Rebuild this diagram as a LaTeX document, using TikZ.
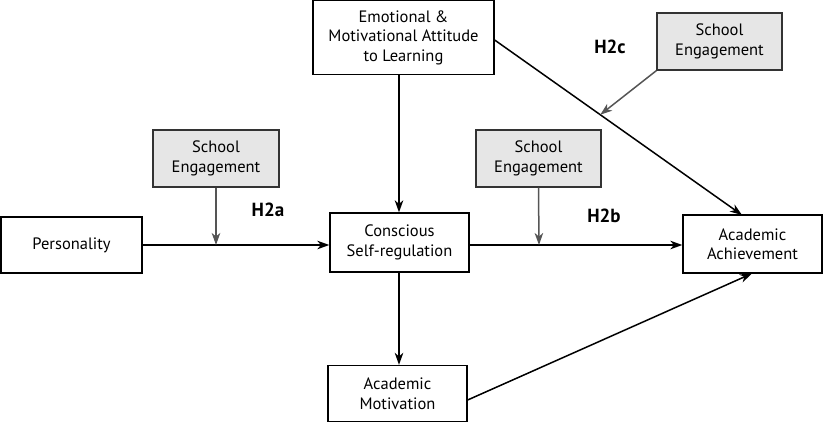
\documentclass[tikz,border=0pt]{standalone}
\usepackage{fontspec}
\setmainfont{PT Sans}
\usetikzlibrary{arrows.meta}
\definecolor{segray}{HTML}{E6E6E6}
\definecolor{arrgray}{HTML}{555555}
\begin{document}
\begin{tikzpicture}[x=1pt,y=-1pt,
  box/.style={draw, line width=1.3pt, fill=white, align=center, inner sep=0pt, font=\fontsize{16.5}{19.5}\selectfont},
  sebox/.style={box, fill=segray, draw=black!80},
  arr/.style={line width=1.5pt, -{Stealth[length=12pt,width=8.5pt,inset=3.5pt]}},
  garr/.style={arr, draw=arrgray, color=arrgray},
  hlab/.style={font=\fontsize{19}{21}\selectfont\bfseries}]
\useasboundingbox (0,0) rectangle (823,423);
\node[box, minimum width=181pt, minimum height=74pt] (emo) at (403.5,37.5) {Emotional \&\\Motivational Attitude\\to Learning};
\node[sebox, minimum width=125pt, minimum height=57pt] (se3) at (719.5,41.5) {School\\Engagement};
\node[sebox, minimum width=126pt, minimum height=57pt] (se1) at (216,158.5) {School\\Engagement};
\node[sebox, minimum width=125pt, minimum height=57pt] (se2) at (538.5,158.5) {School\\Engagement};
\node[box, minimum width=141pt, minimum height=56pt] (pers) at (71.5,245) {Personality};
\node[box, minimum width=139pt, minimum height=59pt] (csr) at (399.5,242.5) {Conscious\\Self-regulation};
\node[box, minimum width=139pt, minimum height=58pt] (ach) at (752.5,244) {Academic\\Achievement};
\node[box, minimum width=139pt, minimum height=56pt] (mot) at (397.5,393.5) {Academic\\Motivation};
\node[hlab] (h2a) at (268,210) {H2a};
\node[hlab] (h2b) at (604,216) {H2b};
\node[hlab] (h2c) at (610,47) {H2c};
% main paths
\draw[arr] (pers.east |- 0,245) -- (csr.west |- 0,245);
\draw[arr] (csr.east |- 0,245) -- (ach.west |- 0,245);
\draw[arr] (emo.south -| 399,0) -- (csr.north -| 399,0);
\draw[arr] (csr.south -| 399,0) -- (mot.north -| 399,0);
\draw[arr] (emo.east |- 0,40) -- coordinate[pos=0.427] (m3) (742,215);
\draw[arr] (mot.east |- 0,400) -- (752,273.5);
% moderators
\coordinate (t1) at (216,245);
\coordinate (t2) at (539,245);
\draw[garr] (se1.south) -- (t1);
\draw[garr] (se2.south) -- (t2);
\draw[garr] (se3.south west) -- (m3);
\end{tikzpicture}
\end{document}
